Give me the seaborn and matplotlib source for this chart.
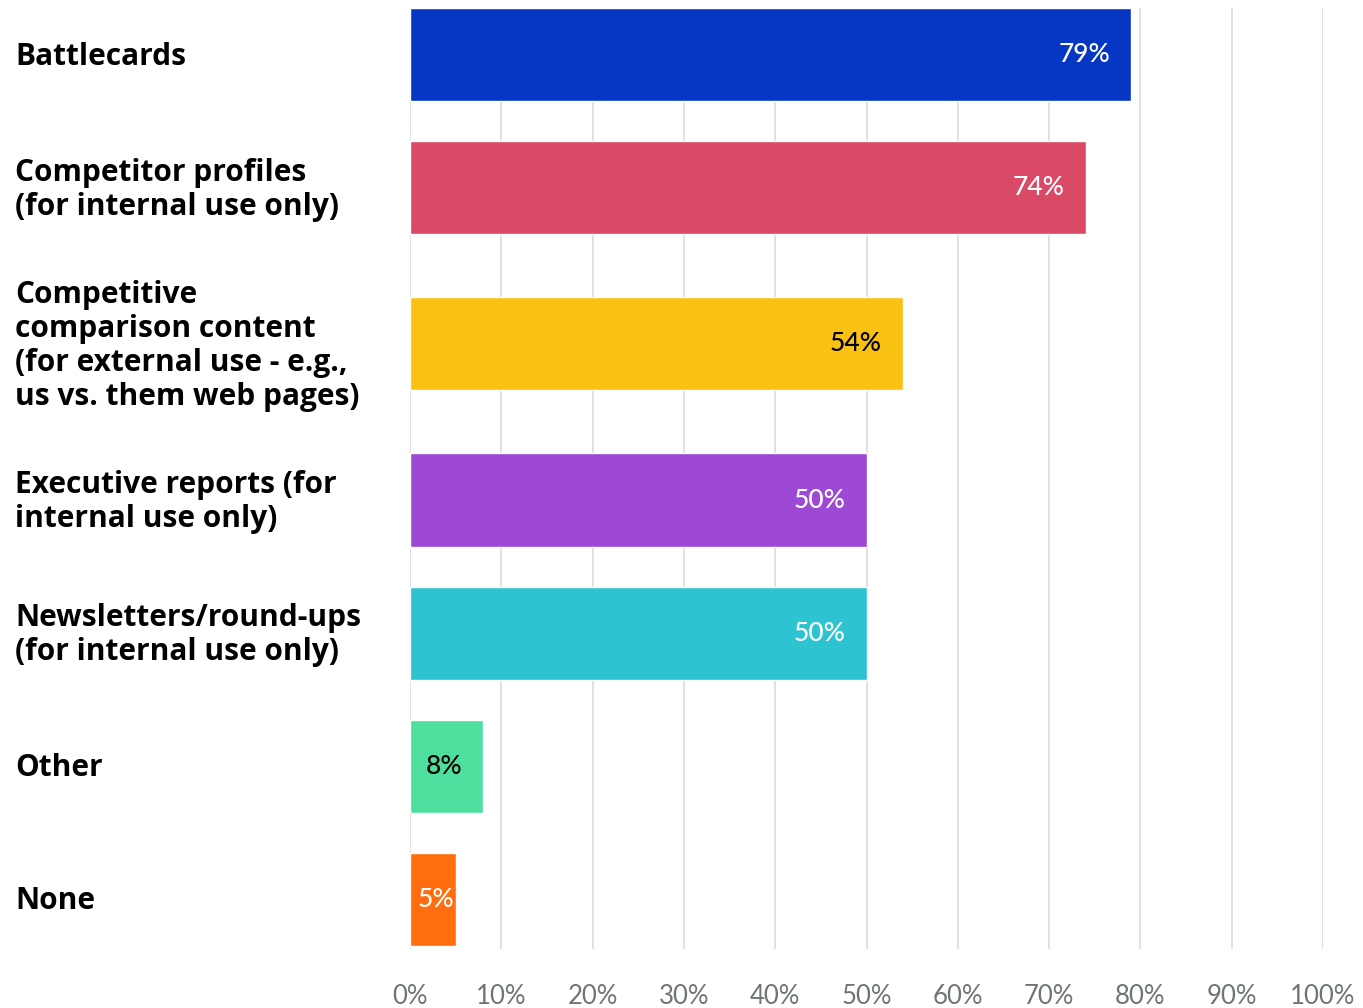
import matplotlib
matplotlib.use("Agg")
import matplotlib.pyplot as plt
import matplotlib.transforms as mtransforms
import numpy as np
import pandas as pd
import seaborn as sns

# Survey results: share of respondents producing each type of deliverable
categories = [
    "Battlecards",
    "Competitor profiles\n(for internal use only)",
    "Competitive\ncomparison content\n(for external use - e.g.,\nus vs. them web pages)",
    "Executive reports (for\ninternal use only)",
    "Newsletters/round-ups\n(for internal use only)",
    "Other",
    "None",
]
values = [79, 74, 54, 50, 50, 8, 5]
bar_colors = ["#0637C4", "#DA4A66", "#F9C112", "#9E48D6", "#2DC3D1", "#4EDE9E", "#FF6D0F"]
value_text_colors = ["white", "white", "black", "white", "white", "black", "white"]
tick_values = list(range(0, 101, 10))
tick_labels = [f"{t}%" for t in tick_values]

# Row layout: each row is one unit tall, taller rows grow with their label's line count
LINE_UNIT = 35 / 133
ROW_PAD = 39 / 133
spans = [max(1.0, c.count("\n") * LINE_UNIT + LINE_UNIT + ROW_PAD) for c in categories]
positions = []
acc = 0.0
for i, s in enumerate(spans):
    if i == 0:
        acc = s / 2
    else:
        acc += (spans[i - 1] + s) / 2
    positions.append(acc)

df = pd.DataFrame({"category": categories, "value": values, "pos": positions})

sns.set_theme(style="white")
plt.rcParams["font.family"] = ["Lato", "DejaVu Sans"]

fig = plt.figure(figsize=(13.63, 10.08), dpi=100)
ax = fig.add_axes([410 / 1363, 59 / 1008, 913 / 1363, 941 / 1008])

sns.barplot(
    data=df, x="value", y="pos", hue="category",
    palette=dict(zip(categories, bar_colors)),
    orient="h", native_scale=True, dodge=False, width=0.7,
    saturation=1, errorbar=None, legend=False, ax=ax,
)

BAR_W = 0.7
ax.set_xlim(0, 100)
ax.set_ylim(positions[-1] + BAR_W / 2 + 3 / 133, positions[0] - BAR_W / 2)

# Vertical gridlines behind the bars
ax.set_axisbelow(True)
ax.set_xticks(tick_values)
ax.set_xticklabels(tick_labels)
ax.grid(axis="x", color="#DCDCDC", linewidth=1.2)
ax.grid(axis="y", visible=False)
for sp in ax.spines.values():
    sp.set_visible(False)
ax.tick_params(axis="x", length=0, pad=25, labelsize=18.5, labelcolor="#6F7577")
ax.set_yticks([])
ax.set_xlabel("")
ax.set_ylabel("")

# Category labels flush with the left edge of the figure
label_tf = mtransforms.blended_transform_factory(fig.transFigure, ax.transData)
for cat, pos in zip(categories, positions):
    ax.text(15 / 1363, pos + 0.015, cat, transform=label_tf, ha="left", va="center",
            fontsize=21.5, fontweight="bold", color="black", linespacing=1.17,
            family=["Open Sans", "DejaVu Sans"])

# Value labels inside the bar ends
for v, pos, tc in zip(values, positions, value_text_colors):
    if v < 7:
        ax.text(0.8, pos, f"{v}%", ha="left", va="center", fontsize=19,
                fontweight="medium", color=tc)
    else:
        ax.text(v - 2.3, pos, f"{v}%", ha="right", va="center", fontsize=19,
                fontweight="medium", color=tc)

fig.savefig("out.png", dpi=100)
